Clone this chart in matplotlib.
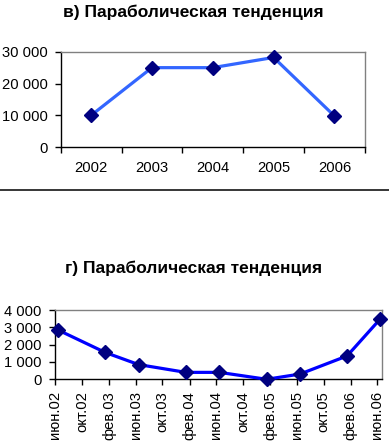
import matplotlib
matplotlib.use("Agg")
import matplotlib.pyplot as plt
import matplotlib.dates as mdates
from matplotlib.ticker import FixedLocator, FuncFormatter, NullFormatter
from matplotlib.lines import Line2D
import datetime as dt

plt.rcParams['font.family'] = ['Liberation Sans', 'DejaVu Sans']

# --- data: chart v (yearly) ---
years = ['2002', '2003', '2004', '2005', '2006']
values_year = [10000, 25000, 25000, 28200, 9800]

# --- data: chart g (half-yearly) ---
dates_half = [dt.date(2002, 6, 15), dt.date(2003, 1, 15), dt.date(2003, 6, 15),
              dt.date(2004, 1, 15), dt.date(2004, 6, 15), dt.date(2005, 1, 15),
              dt.date(2005, 6, 15), dt.date(2006, 1, 15), dt.date(2006, 6, 15)]
values_half = [2850, 1550, 850, 400, 400, 0, 300, 1350, 3500]

month_names = {2: 'фев', 6: 'июн', 10: 'окт'}

title_v = 'в) Параболическая тенденция'
title_g = 'г) Параболическая тенденция'

gray = '#808080'
navy = '#000080'
tick_fs = 10.6
title_fs = 12.5


def space_thousands(v, pos):
    return f'{int(v):,}'.replace(',', ' ')


def style_axes(ax):
    for s in ('top', 'right'):
        ax.spines[s].set_color(gray)
        ax.spines[s].set_linewidth(1)
    for s in ('left', 'bottom'):
        ax.spines[s].set_color('black')
        ax.spines[s].set_linewidth(1)
    ax.yaxis.grid(True, color='black', linewidth=1)
    ax.set_axisbelow(True)
    ax.yaxis.set_major_formatter(FuncFormatter(space_thousands))


fig = plt.figure(figsize=(3.89, 4.46), dpi=100)

# ---- top chart ----
ax1 = fig.add_axes([0.156, 0.670, 0.782, 0.214])
x = list(range(len(years)))
ax1.plot(x, values_year, color='#3366FF', linewidth=2.3, marker='D',
         markersize=6.8, markerfacecolor=navy, markeredgecolor=navy, clip_on=False, zorder=3)
ax1.set_xlim(-0.5, len(years) - 0.5)
ax1.set_ylim(0, 30000)
ax1.set_yticks([0, 10000, 20000, 30000])
ax1.xaxis.set_major_locator(FixedLocator([i - 0.5 for i in range(len(years) + 1)]))
ax1.xaxis.set_major_formatter(NullFormatter())
ax1.xaxis.set_minor_locator(FixedLocator(x))
ax1.set_xticklabels(years, minor=True)
ax1.tick_params(axis='x', which='major', length=4, direction='out', width=1)
ax1.tick_params(axis='x', which='minor', length=0, pad=10, labelsize=tick_fs)
ax1.tick_params(axis='y', length=4, width=1, pad=5, labelsize=tick_fs)
style_axes(ax1)
for gl in ax1.get_ygridlines():
    if abs(gl.get_ydata()[0] - 30000) < 1 or abs(gl.get_ydata()[0]) < 1:
        gl.set_visible(False)

fig.text(0.497, 1 - 17 / 446, title_v, ha='center', va='baseline',
         fontsize=title_fs, fontweight='bold')

# separator line
fig.add_artist(Line2D([0, 1], [1 - 190.3 / 446] * 2, color='black', linewidth=1.1,
                      transform=fig.transFigure))

# ---- bottom chart ----
ax2 = fig.add_axes([0.1414, 0.1496, 0.841, 0.155])
ax2.plot(dates_half, values_half, color='#0000FF', linewidth=2.3, marker='D',
         markersize=6.8, markerfacecolor=navy, markeredgecolor=navy, clip_on=False, zorder=3)
ax2.set_xlim(dt.date(2002, 6, 1), dt.date(2006, 6, 23))
ax2.set_ylim(0, 4000)
ax2.set_yticks([0, 1000, 2000, 3000, 4000])
ax2.xaxis.set_major_locator(mdates.MonthLocator(bymonth=[2, 6, 10]))


def ru_month(v, pos):
    d = mdates.num2date(v)
    return f'{month_names[d.month]}.{d.year % 100:02d}'


ax2.xaxis.set_major_formatter(FuncFormatter(ru_month))
ax2.tick_params(axis='x', length=4, width=1, pad=4.5, labelsize=tick_fs, labelrotation=90)
ax2.tick_params(axis='y', length=4, width=1, pad=5.5, labelsize=tick_fs)
style_axes(ax2)
for gl in ax2.get_ygridlines():
    if abs(gl.get_ydata()[0] - 4000) < 1 or abs(gl.get_ydata()[0]) < 1:
        gl.set_visible(False)

fig.text(0.497, 1 - 273.5 / 446, title_g, ha='center', va='baseline',
         fontsize=title_fs, fontweight='bold')

fig.savefig('out.png', dpi=100)
